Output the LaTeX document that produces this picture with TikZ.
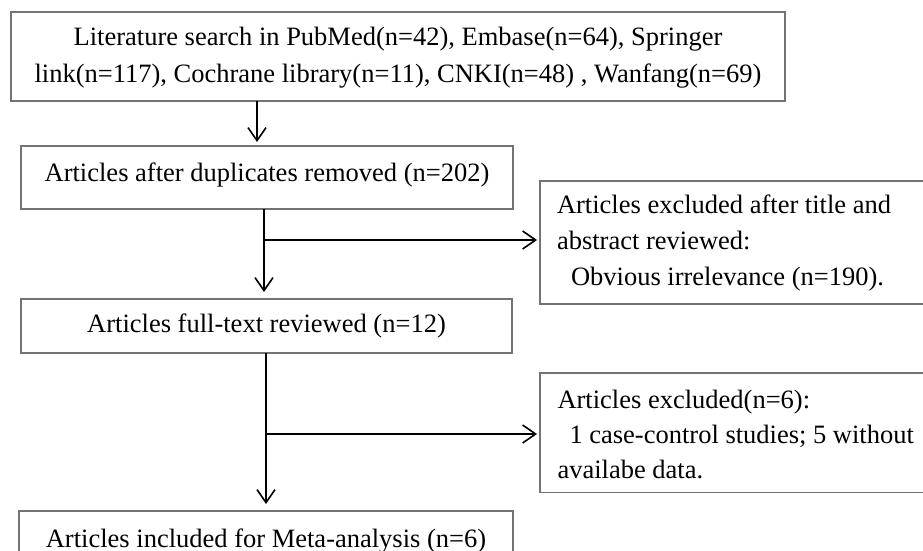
\documentclass[tikz,border=0pt]{standalone}
\usepackage{fontspec}
\setmainfont{Liberation Serif}
\usetikzlibrary{arrows.meta}
\begin{document}
\begin{tikzpicture}[x=1pt,y=-1pt,
  box/.style={draw=black!55, line width=1.2pt, rectangle, inner sep=0pt, outer sep=0pt},
  conn/.style={draw=black, line width=1.8pt},
  arr/.style={conn, -{Straight Barb[length=13pt,width=18pt,line width=1.6pt]}},
  txt/.style={inner sep=0pt, outer sep=0pt},
  lead/.style={font=\fontsize{26.5}{#1}\selectfont}
]
\useasboundingbox (0,0) rectangle (923,551);
\clip (0,0) rectangle (923,551);

% boxes
\node[box, minimum width=774pt, minimum height=89pt] (n1) at (398,56.5) {};
\node[box, minimum width=492pt, minimum height=63pt] (n2) at (267,177.5) {};
\node[box, minimum width=390pt, minimum height=123pt] (n3) at (735,242.5) {};
\node[box, minimum width=491pt, minimum height=54pt] (n4) at (266.5,326) {};
\node[box, minimum width=494pt, minimum height=89pt] (n5) at (266,555.5) {};
\node[box, minimum width=390pt, minimum height=119.5pt] (n6) at (735,432.75) {};

% texts
\node[txt, lead=36.5, anchor=base] (t1) at (398,45.5)
  {\begin{tabular}[t]{@{}c@{}}Literature search in PubMed(n=42), Embase(n=64), Springer\\
   link(n=117), Cochrane library(n=11), CNKI(n=48) , Wanfang(n=69)\end{tabular}};
\node[txt, lead=36, anchor=base] (t2) at (267,181.5) {Articles after duplicates removed (n=202)};
\node[txt, lead=36, anchor=base west] (t3) at (557,213)
  {\begin{tabular}[t]{@{}l@{}}Articles excluded after title and\\
   abstract reviewed:\\
   \hspace*{14pt}Obvious irrelevance (n=190).\end{tabular}};
\node[txt, lead=36, anchor=base] (t4) at (266.5,332) {Articles full-text reviewed (n=12)};
\node[txt, lead=36, anchor=base] (t5) at (266,547) {Articles included for Meta-analysis (n=6)};
\node[txt, lead=35, anchor=base west] (t6) at (557.5,408)
  {\begin{tabular}[t]{@{}l@{}}Articles excluded(n=6):\\
   \hspace*{12pt}1 case-control studies; 5 without\\
   availabe data.\end{tabular}};

% connector positions
\coordinate (a1) at (257,0);
\coordinate (a2) at (264,0);
\coordinate (a3) at (266,0);
\coordinate (b1) at (264,240);
\coordinate (b2) at (266,434);

% connectors
\draw[arr, shorten >=4pt] (n1.south -| a1) -- (n2.north -| a1);
\draw[arr, shorten >=7pt] (n2.south -| a2) -- (n4.north -| a2);
\draw[arr, shorten >=3pt] (b1) -- (b1 -| n3.west);
\draw[arr, shorten >=7pt] (n4.south -| a3) -- (n5.north -| a3);
\draw[arr, shorten >=3pt] (b2) -- (b2 -| n6.west);
\end{tikzpicture}
\end{document}
